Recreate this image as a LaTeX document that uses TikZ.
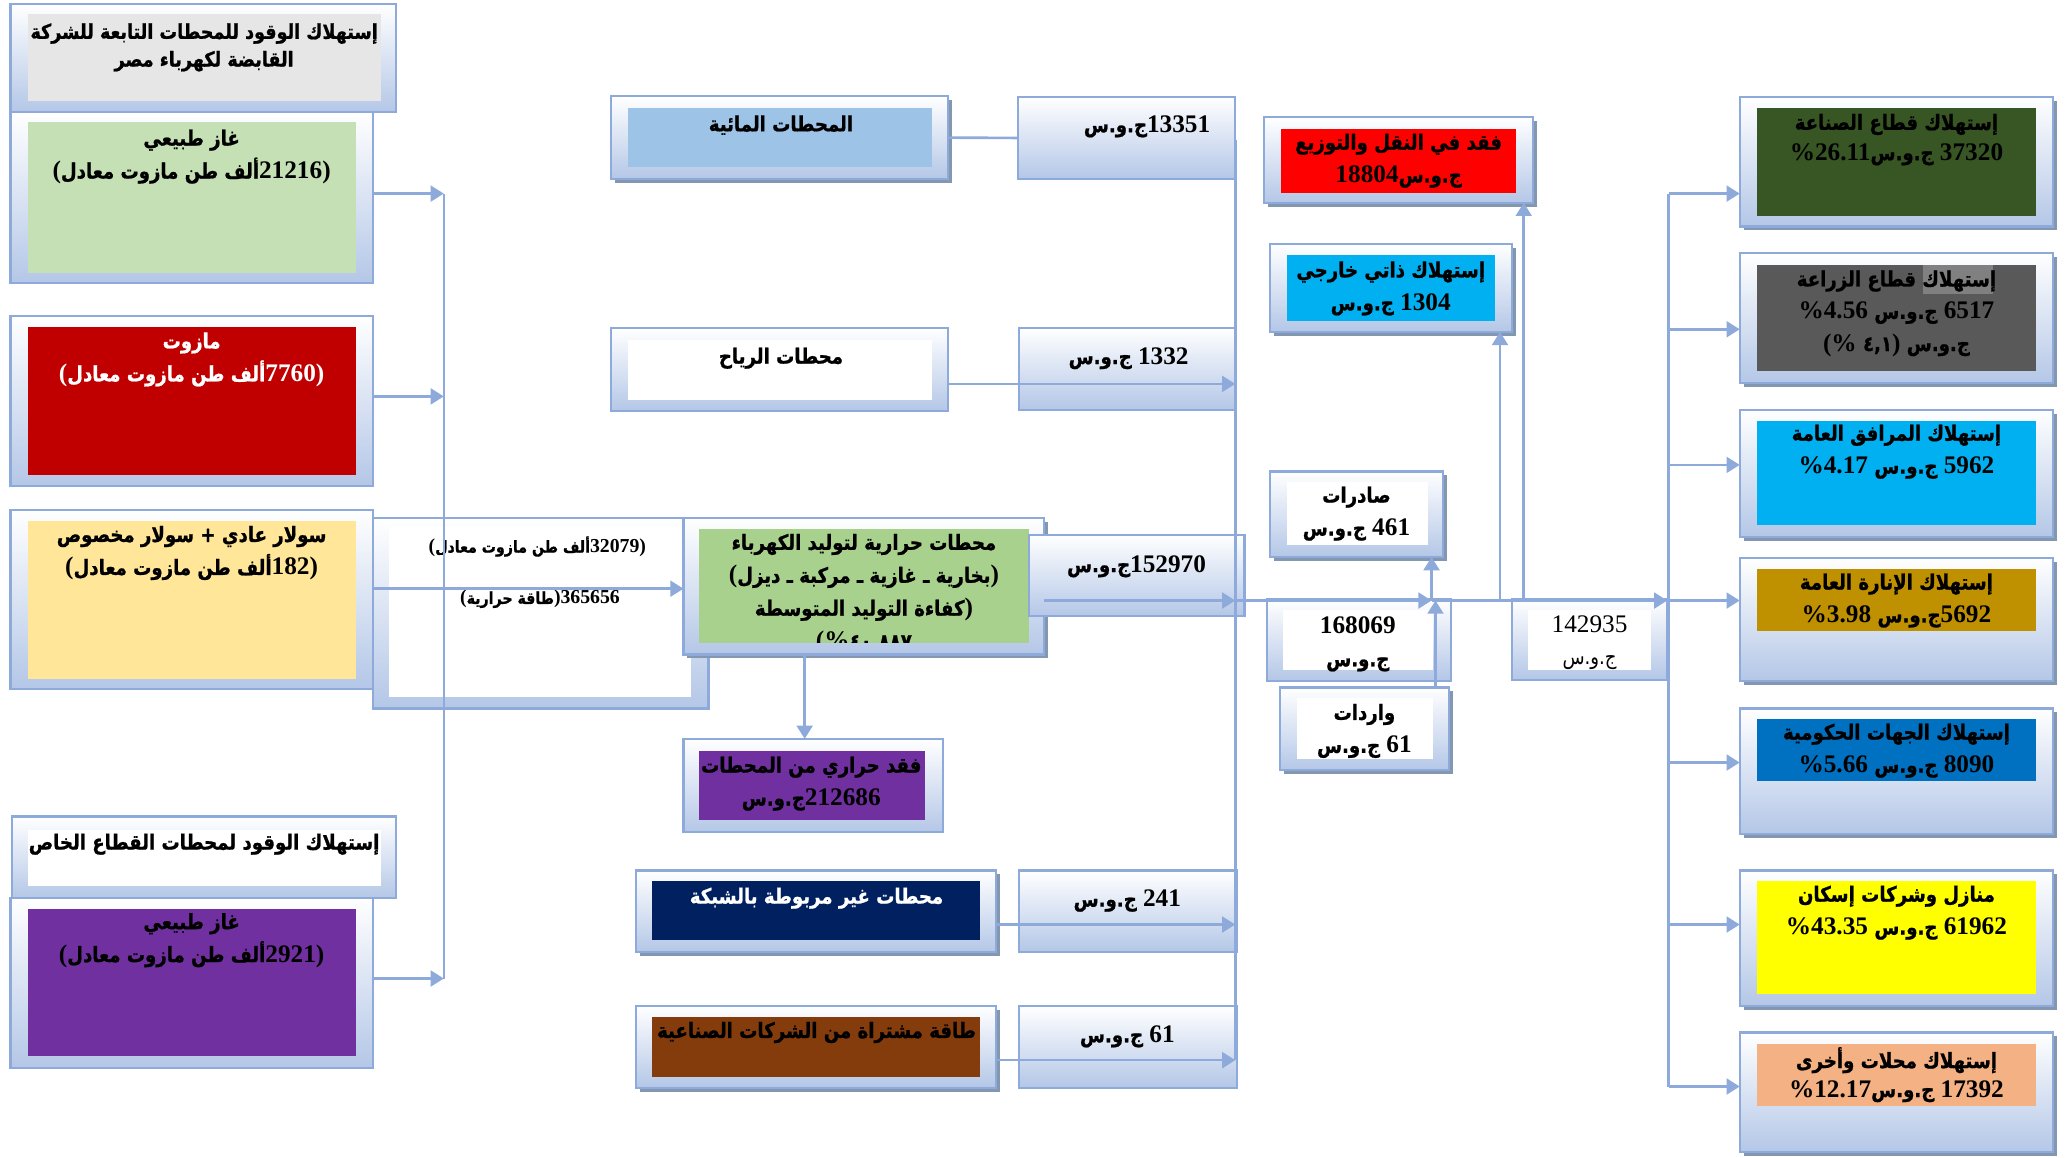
\documentclass[tikz,border=0pt]{standalone}
\usepackage{fontspec}
\usetikzlibrary{arrows.meta,shadows,calc}
\TeXXeTstate=1
\newfontfamily\arf[Script=Arabic,FakeStretch=0.86,BoldFeatures={FakeBold=1}]{DejaVu Sans}
\newfontfamily\nf[Scale=1.2]{Liberation Serif}
\newcommand\AR[1]{\beginR#1\endR}
\newcommand\N[1]{\beginL{\nf #1}\endL}
\newcommand\bx[6][panel]{\node[#1, minimum width={#5pt-#3pt}, minimum height={#6pt-#4pt}] (#2) at (#3,#4) {};}
\definecolor{bord}{HTML}{8EAADB}
\definecolor{pfill}{HTML}{B4C7E7}
\definecolor{shad}{HTML}{8497B0}
\definecolor{lin}{HTML}{8EAADB}
\definecolor{cgray}{HTML}{E7E6E6}
\definecolor{cgreen}{HTML}{C5E0B4}
\definecolor{cred}{HTML}{C00000}
\definecolor{cyel}{HTML}{FFE699}
\definecolor{cpurp}{HTML}{7030A0}
\definecolor{chyd}{HTML}{9DC3E6}
\definecolor{cthr}{HTML}{A9D18E}
\definecolor{cnavy}{HTML}{002060}
\definecolor{cbrown}{HTML}{843C0C}
\definecolor{cbred}{HTML}{FF0000}
\definecolor{ccyan}{HTML}{00B0F0}
\definecolor{cdg}{HTML}{375623}
\definecolor{cdgray}{HTML}{595959}
\definecolor{cmgray}{HTML}{808080}
\definecolor{cgold}{HTML}{BF9000}
\definecolor{cblue}{HTML}{0070C0}
\definecolor{cyellow}{HTML}{FFFF00}
\definecolor{cpeach}{HTML}{F4B183}
\begin{document}
\begin{tikzpicture}[x=1pt,y=-1pt,
 panel/.style={draw=bord,line width=1.6pt,top color=white,bottom color=pfill,inner sep=0pt,outer sep=0pt,anchor=north west},
 spanel/.style={panel,drop shadow={shadow xshift=3pt,shadow yshift=-3pt,fill=shad,opacity=1}},
 inbox/.style={draw=none,inner sep=0pt,outer sep=0pt,anchor=north west},
 txt/.style={font=\arf\bfseries\fontsize{16}{25}\selectfont,align=center,inner sep=0pt},
 small/.style={font=\arf\bfseries\fontsize{12.5}{18}\selectfont,align=center,inner sep=0pt},
 arr/.style={draw=lin,line width=2pt,-{Triangle[length=10pt,width=12pt]}},
 ln/.style={draw=lin,line width=2pt}]
\fill[white] (0,0) rectangle (1568,879);
\useasboundingbox (0,0) rectangle (1568,879);
% ---------- left column
\bx{H1}{8}{3}{301}{85}
\bx[inbox,fill=cgray]{H1i}{21}{11}{289}{77}
\bx{G1}{8}{85}{283}{215}
\bx[inbox,fill=cgreen]{G1i}{21}{93}{270}{207}
\bx{M}{8}{240}{283}{369}
\bx[inbox,fill=cred]{Mi}{21}{248}{270}{361}
\bx{F}{283}{393}{538}{538}
\bx[inbox,fill=white]{Fi}{295}{400}{525}{529}
\bx{S}{8}{387}{283}{523}
\bx[inbox,fill=cyel]{Si}{21}{395.5}{270}{515.5}
\bx{H2}{9}{620}{301}{682}
\bx[inbox,fill=white]{H2i}{21}{630}{289}{673}
\bx{G2}{8}{682}{283}{811}
\bx[inbox,fill=cpurp]{G2i}{21}{690}{270}{802}
% ---------- middle column
\bx[spanel]{HY}{464}{73}{720}{136}
\bx[inbox,fill=chyd]{HYi}{477}{82}{708}{127}
\bx{W}{464}{249}{720}{312}
\bx[inbox,fill=white]{Wi}{477}{258}{708}{304}
\bx[spanel]{T}{519}{393}{793}{497}
\bx[inbox,fill=cthr]{Ti}{531}{402}{781}{488}
\bx{HL}{519}{561}{716}{632}
\bx[inbox,fill=cpurp]{HLi}{531}{570}{702}{623}
\bx[spanel]{OG}{483}{661}{756}{723}
\bx[inbox,fill=cnavy]{OGi}{495}{669}{744}{714}
\bx[spanel]{PU}{483}{764}{756}{826}
\bx[inbox,fill=cbrown]{PUi}{495}{772}{744}{818}
% ---------- value column
\bx{V1}{773}{73.5}{938}{136}
\bx{V2}{774}{249}{938}{311}
\bx{V3}{781}{406}{945}{468}
\bx{V4}{774}{661}{939}{723}
\bx{V5}{774}{764}{939}{826}
% ---------- balance column
\bx[spanel]{LT}{960}{89}{1164}{154}
\bx[inbox,fill=cbred]{LTi}{973}{98}{1151}{146.5}
\bx[spanel]{SC}{964}{185}{1148}{252}
\bx[inbox,fill=ccyan]{SCi}{977}{194}{1135}{244}
\bx[spanel]{EX}{964}{358}{1096}{423}
\bx[inbox,fill=white]{EXi}{977}{366}{1084}{414}
\bx{TO}{962}{455}{1102}{517}
\bx[inbox,fill=white]{TOi}{974}{463}{1088}{509}
\bx[spanel]{IM}{972}{522}{1100}{585}
\bx[inbox,fill=white]{IMi}{985}{530}{1088}{576}
\bx{NE}{1148}{455}{1266}{516}
\bx[inbox,fill=white]{NEi}{1160}{463}{1254}{509}
% ---------- consumers
\bx[spanel]{C1}{1321}{73.5}{1559}{172}
\bx[inbox,fill=cdg]{C1i}{1334}{82}{1546}{164}
\bx[spanel]{C2}{1321}{192}{1559}{291}
\bx[inbox,fill=cdgray]{C2i}{1334}{201}{1546}{282}
\bx[inbox,fill=cmgray]{C2h}{1460}{201}{1513}{223}
\bx[spanel]{C3}{1321}{311}{1559}{408}
\bx[inbox,fill=ccyan]{C3i}{1334}{320}{1546}{399}
\bx[spanel]{C4}{1321}{424}{1559}{517}
\bx[inbox,fill=cgold]{C4i}{1334}{432}{1546}{479}
\bx[spanel]{C5}{1321}{538}{1559}{633}
\bx[inbox,fill=cblue]{C5i}{1334}{546}{1546}{593}
\bx[spanel]{C6}{1321}{661}{1559}{764}
\bx[inbox,fill=cyellow]{C6i}{1334}{669}{1546}{755}
\bx[spanel]{C7}{1321}{784}{1559}{875}
\bx[inbox,fill=cpeach]{C7i}{1334}{793}{1546}{840}
% ---------- texts
\node[txt,font=\arf\bfseries\fontsize{15.5}{21}\selectfont] (H1t) at (155,36) {\AR{إستهلاك الوقود للمحطات التابعة للشركة}\\\AR{القابضة لكهرباء مصر}};
\node[txt] (G1t) at (145.5,119) {\AR{غاز طبيعي}\\\AR{\N{)}\N{21216}ألف طن مازوت معادل\N{(}}};
\node[txt,text=white] (Mt) at (145.5,273) {\AR{مازوت}\\\AR{\N{)}\N{7760}ألف طن مازوت معادل\N{(}}};
\node[txt] (St) at (145.5,420) {\AR{سولار عادي + سولار مخصوص}\\\AR{\N{)}\N{182}ألف طن مازوت معادل\N{(}}};
\node[txt] (H2t) at (155,641) {\AR{إستهلاك الوقود لمحطات القطاع الخاص}};
\node[txt] (G2t) at (145.5,714) {\AR{غاز طبيعي}\\\AR{\N{)}\N{2921}ألف طن مازوت معادل\N{(}}};
\node[small] (Fa) at (408,415) {\AR{\N{)}\N{32079}ألف طن مازوت معادل\N{(}}};
\node[small] (Fb) at (410,455) {\AR{\N{365656}\N{)}طاقة حرارية\N{(}}};
\node[txt] (HYt) at (593,95) {\AR{المحطات المائية}};
\node[txt] (Wt) at (593,272) {\AR{محطات الرياح}};
\begin{scope}
\clip (531,402) rectangle (781,488);
\node[txt] (Tt) at (656,451) {\AR{محطات حرارية لتوليد الكهرباء}\\\AR{\N{)}بخارية ـ غازية ـ مركبة ـ ديزل\N{(}}\\\AR{\N{)}كفاءة التوليد المتوسطة}\\\AR{\beginL{\arf ٤٠,٨٨٧}\endL\N{\%}\N{(}}};
\end{scope}
\node[txt] (HLt) at (616,595) {\AR{فقد حراري من المحطات}\\\AR{\N{212686}ج.و.س}};
\node[txt,text=white] (OGt) at (620,682) {\AR{محطات غير مربوطة بالشبكة}};
\node[txt] (PUt) at (620,784) {\AR{طاقة مشتراة من الشركات الصناعية}};
\node[txt] (V1t) at (871,96) {\AR{\N{13351}ج.و.س}};
\node[txt] (V2t) at (857,272) {\AR{\N{1332} ج.و.س}};
\node[txt] (V3t) at (863,430) {\AR{\N{152970}ج.و.س}};
\node[txt] (V4t) at (856,684) {\AR{\N{241} ج.و.س}};
\node[txt] (V5t) at (856,787) {\AR{\N{61} ج.و.س}};
\node[txt] (LTt) at (1062,122) {\AR{فقد في النقل والتوزيع}\\\AR{ج.و.س\N{18804}}};
\node[txt] (SCt) at (1056,219) {\AR{إستهلاك ذاتي خارجي}\\\AR{\N{1304} ج.و.س}};
\node[txt] (EXt) at (1030,390) {\AR{صادرات}\\\AR{\N{461} ج.و.س}};
\node[txt] (TOt) at (1031,489) {\N{168069}\\\AR{ج.و.س}};
\node[txt] (IMt) at (1036,555) {\AR{واردات}\\\AR{\N{61} ج.و.س}};
\node[txt,font=\arf\fontsize{16}{24}\selectfont] (NEt) at (1207,488) {\N{142935}\\\AR{ج.و.س}};
\node[txt,font=\arf\bfseries\fontsize{16}{23}\selectfont] (C1t) at (1440,106) {\AR{إستهلاك قطاع الصناعة}\\\AR{\N{37320} ج.و.س\N{\%26.11}}};
\node[txt,font=\arf\bfseries\fontsize{16}{24.5}\selectfont] (C2t) at (1440,238) {\AR{إستهلاك قطاع الزراعة}\\\AR{\N{6517} ج.و.س \N{\%4.56}}\\\AR{ج.و.س \N{)}\beginL{\arf ٤,١}\endL\ \N{\%}\N{(}}};
\node[txt] (C3t) at (1440,343) {\AR{إستهلاك المرافق العامة}\\\AR{\N{5962} ج.و.س \N{\%4.17}}};
\node[txt] (C4t) at (1440,456) {\AR{إستهلاك الإنارة العامة}\\\AR{\N{5692}ج.و.س \N{\%3.98}}};
\node[txt] (C5t) at (1440,570) {\AR{إستهلاك الجهات الحكومية}\\\AR{\N{8090} ج.و.س \N{\%5.66}}};
\node[txt] (C6t) at (1440,693) {\AR{منازل وشركات إسكان}\\\AR{\N{61962} ج.و.س \N{\%43.35}}};
\node[txt,font=\arf\bfseries\fontsize{16}{22}\selectfont] (C7t) at (1440,816) {\AR{إستهلاك محلات وأخرى}\\\AR{\N{17392} ج.و.س\N{\%12.17}}};
% ---------- connectors
\coordinate (lbT) at (337,147);
\coordinate (lbM) at (337,301);
\coordinate (lbB) at (337,743);
\draw[ln] (lbT) -- (lbB);
\draw[arr] (G1.east|-lbT) -- (lbT);
\draw[arr] (M.east|-lbM) -- (lbM);
\draw[arr] (G2.east|-lbB) -- (lbB);
\coordinate (sa) at ($(S.east)+(0,-8)$);
\draw[arr] (sa) -- (sa-|T.west);
\coordinate (th) at ($(T.south)+(-45,0)$);
\draw[arr] (th) -- (th|-HL.north);
\coordinate (rbT) at (938,106);
\coordinate (rbB) at (938,805);
\draw[ln] (rbT) -- (rbB);
\draw[ln] (HY.east) -- (V1.west);
\coordinate (wa) at ($(W.east)+(0,11)$);
\draw[arr] (wa) -- (wa-|rbT);
\coordinate (ta) at (793,456);
\draw[arr] (ta) -- (ta-|rbT);
\coordinate (oa) at ($(OG.east)+(0,10)$);
\draw[arr] (oa) -- (oa-|rbT);
\coordinate (pa) at ($(PU.east)+(0,10)$);
\draw[arr] (pa) -- (pa-|rbT);
\coordinate (J) at (1087,456);
\draw[arr] (ta-|rbT) -- (J);
\draw[arr] (J) -- (J-|NE.east);
\draw[arr] (J) -- (J|-EX.south);
\coordinate (ia) at ($(IM.north)+(54,0)$);
\draw[arr] (ia) -- (ia|-J);
\coordinate (j2) at (1139,456);
\draw[arr] (j2) -- (j2|-SC.south);
\coordinate (j3) at (1157,456);
\draw[arr] (j3) -- (j3|-LT.south);
\coordinate (cbT) at (1267,147);
\coordinate (cb2) at (1267,250);
\coordinate (cb3) at (1267,353);
\coordinate (cb4) at (1267,456);
\coordinate (cb5) at (1267,579);
\coordinate (cb6) at (1267,702);
\coordinate (cbB) at (1267,825);
\draw[ln] (cbT) -- (cbB);
\draw[arr] (cbT) -- (cbT-|C1.west);
\draw[arr] (cb2) -- (cb2-|C2.west);
\draw[arr] (cb3) -- (cb3-|C3.west);
\draw[arr] (cb4) -- (cb4-|C4.west);
\draw[arr] (cb5) -- (cb5-|C5.west);
\draw[arr] (cb6) -- (cb6-|C6.west);
\draw[arr] (cbB) -- (cbB-|C7.west);
\end{tikzpicture}
\end{document}
